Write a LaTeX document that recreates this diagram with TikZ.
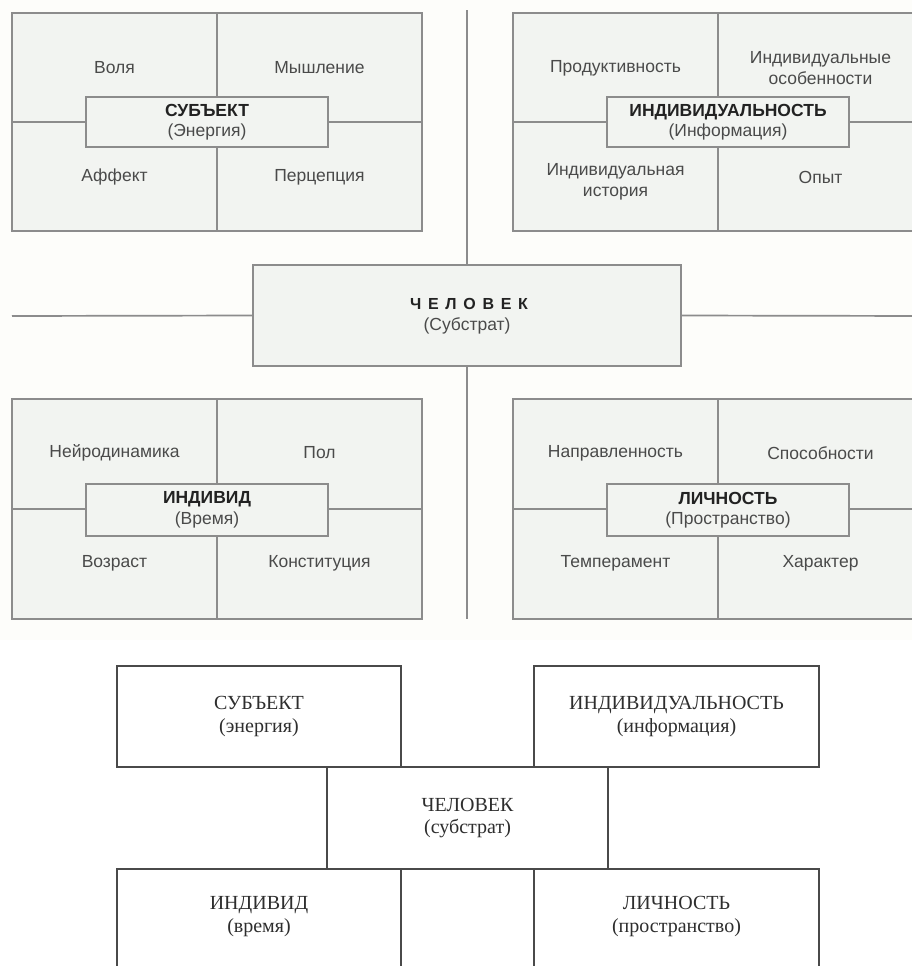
\documentclass[tikz,border=0pt]{standalone}
\usepackage{fontspec}
\setmainfont{Liberation Serif}
\newfontfamily\sansf{Liberation Sans}
\newfontfamily\sansspaced[LetterSpace=42]{Liberation Sans}
\definecolor{upbg}{HTML}{FDFDFA}
\definecolor{upfill}{HTML}{F2F4F1}
\definecolor{upline}{HTML}{8C8C8C}
\definecolor{uptext}{HTML}{4A4A4A}
\definecolor{upbold}{HTML}{222222}
\definecolor{lowline}{HTML}{4A4A4A}
\definecolor{lowtext}{HTML}{2E2E2E}
\begin{document}
\begin{tikzpicture}[x=1pt,y=-1pt,
  outerbox/.style={rectangle,draw=upline,line width=1.7pt,fill=upfill,inner sep=0pt,outer sep=0pt},
  innerbox/.style={outerbox,minimum width=242pt,minimum height=50pt,align=center,
     font=\sansf\fontsize{17.5}{20.5}\selectfont,text=uptext},
  divline/.style={draw=upline,line width=1.7pt},
  conn/.style={draw=upline,line width=1.7pt},
  celltext/.style={align=center,inner sep=0pt,font=\sansf\fontsize{17.5}{20.5}\selectfont,text=uptext},
  lbox/.style={rectangle,draw=lowline,line width=1.5pt,inner sep=0pt,outer sep=0pt,align=center,
     font=\fontsize{20}{22.5}\selectfont,text=lowtext},
  ltext/.style={align=center,inner sep=0pt,font=\fontsize{20}{22.5}\selectfont,text=lowtext}
]
\useasboundingbox (0,0) rectangle (912,966);
\clip (0,0) rectangle (912,966);
\fill[white] (0,0) rectangle (912,966);
\fill[upbg] (0,0) rectangle (912,640);

% ---------- central connectors ----------
\node[outerbox,minimum width=428pt,minimum height=101pt,align=center] (chel) at (467,315.5) {};
\coordinate (ctop) at (467,10);
\coordinate (cbot) at (467,619);
\coordinate (cleft) at (12,316);
\coordinate (cright) at (925,316);
\draw[conn] (chel.north) -- (ctop);
\draw[conn] (chel.south) -- (cbot);
\draw[conn] (chel.west) -- (cleft);
\draw[conn] (chel.east) -- (cright);
\node[outerbox,minimum width=428pt,minimum height=101pt,align=center] (chelb) at (467,315.5) {};
\node[align=center,inner sep=0pt,text=upbold] (cheltitle) at (469,304) {\sansspaced\bfseries\fontsize{16}{18}\selectfont ЧЕЛОВЕК};
\node[celltext] (chelsub) at (467,326) {(Субстрат)};

% ---------- top-left: СУБЪЕКТ ----------
\node[outerbox,minimum width=410pt,minimum height=218pt] (tl) at (217,122) {};
\draw[divline] (tl.north) -- (tl.south);
\draw[divline] (tl.west) -- (tl.east);
\node[innerbox] (tlin) at (207,122) {\textcolor{upbold}{\bfseries СУБЪЕКТ}\\(Энергия)};
\node[celltext] (tl1) at (114.5,68) {Воля};
\node[celltext] (tl2) at (319.5,68) {Мышление};
\node[celltext] (tl3) at (114.5,177) {Аффект};
\node[celltext] (tl4) at (319.5,177) {Перцепция};

% ---------- top-right: ИНДИВИДУАЛЬНОСТЬ ----------
\node[outerbox,minimum width=410pt,minimum height=218pt] (tr) at (718,122) {};
\draw[divline] (tr.north) -- (tr.south);
\draw[divline] (tr.west) -- (tr.east);
\node[innerbox] (trin) at (728,122) {\textcolor{upbold}{\bfseries ИНДИВИДУАЛЬНОСТЬ}\\(Информация)};
\node[celltext] (tr1) at (615.5,68) {Продуктивность};
\node[celltext] (tr2) at (820.5,68) {Индивидуальные\\особенности};
\node[celltext] (tr3) at (615.5,182) {Индивидуальная\\история};
\node[celltext] (tr4) at (820.5,177) {Опыт};

% ---------- bottom-left: ИНДИВИД ----------
\node[outerbox,minimum width=410pt,minimum height=220pt] (bl) at (217,509) {};
\draw[divline] (bl.north) -- (bl.south);
\draw[divline] (bl.west) -- (bl.east);
\node[innerbox,minimum height=52pt] (blin) at (207,510) {\textcolor{upbold}{\bfseries ИНДИВИД}\\(Время)};
\node[celltext] (bl1) at (114.5,453) {Нейродинамика};
\node[celltext] (bl2) at (319.5,453) {Пол};
\node[celltext] (bl3) at (114.5,563) {Возраст};
\node[celltext] (bl4) at (319.5,563) {Конституция};

% ---------- bottom-right: ЛИЧНОСТЬ ----------
\node[outerbox,minimum width=410pt,minimum height=220pt] (br) at (718,509) {};
\draw[divline] (br.north) -- (br.south);
\draw[divline] (br.west) -- (br.east);
\node[innerbox,minimum height=52pt] (brin) at (728,510) {\textcolor{upbold}{\bfseries ЛИЧНОСТЬ}\\(Пространство)};
\node[celltext] (br1) at (615.5,453) {Направленность};
\node[celltext] (br2) at (820.5,453) {Способности};
\node[celltext] (br3) at (615.5,563) {Темперамент};
\node[celltext] (br4) at (820.5,563) {Характер};

% ---------- lower diagram ----------
\node[lbox,minimum width=284pt,minimum height=101pt] (lsub) at (259,716.5) {СУБЪЕКТ\\(энергия)};
\node[lbox,minimum width=285pt,minimum height=101pt] (lidl) at (676.5,716.5) {ИНДИВИДУАЛЬНОСТЬ\\(информация)};
\node[lbox,minimum width=281pt,minimum height=102pt] (lchel) at (467.5,818) {ЧЕЛОВЕК\\(субстрат)};
\node[lbox,minimum width=284pt,minimum height=101pt] (lidv) at (259,919.5) {};
\node[lbox,minimum width=285pt,minimum height=101pt] (llic) at (676.5,919.5) {};
\node[ltext] (lidvt) at (259,916.5) {ИНДИВИД\\(время)};
\node[ltext] (llict) at (676.5,916.5) {ЛИЧНОСТЬ\\(пространство)};
\end{tikzpicture}
\end{document}
